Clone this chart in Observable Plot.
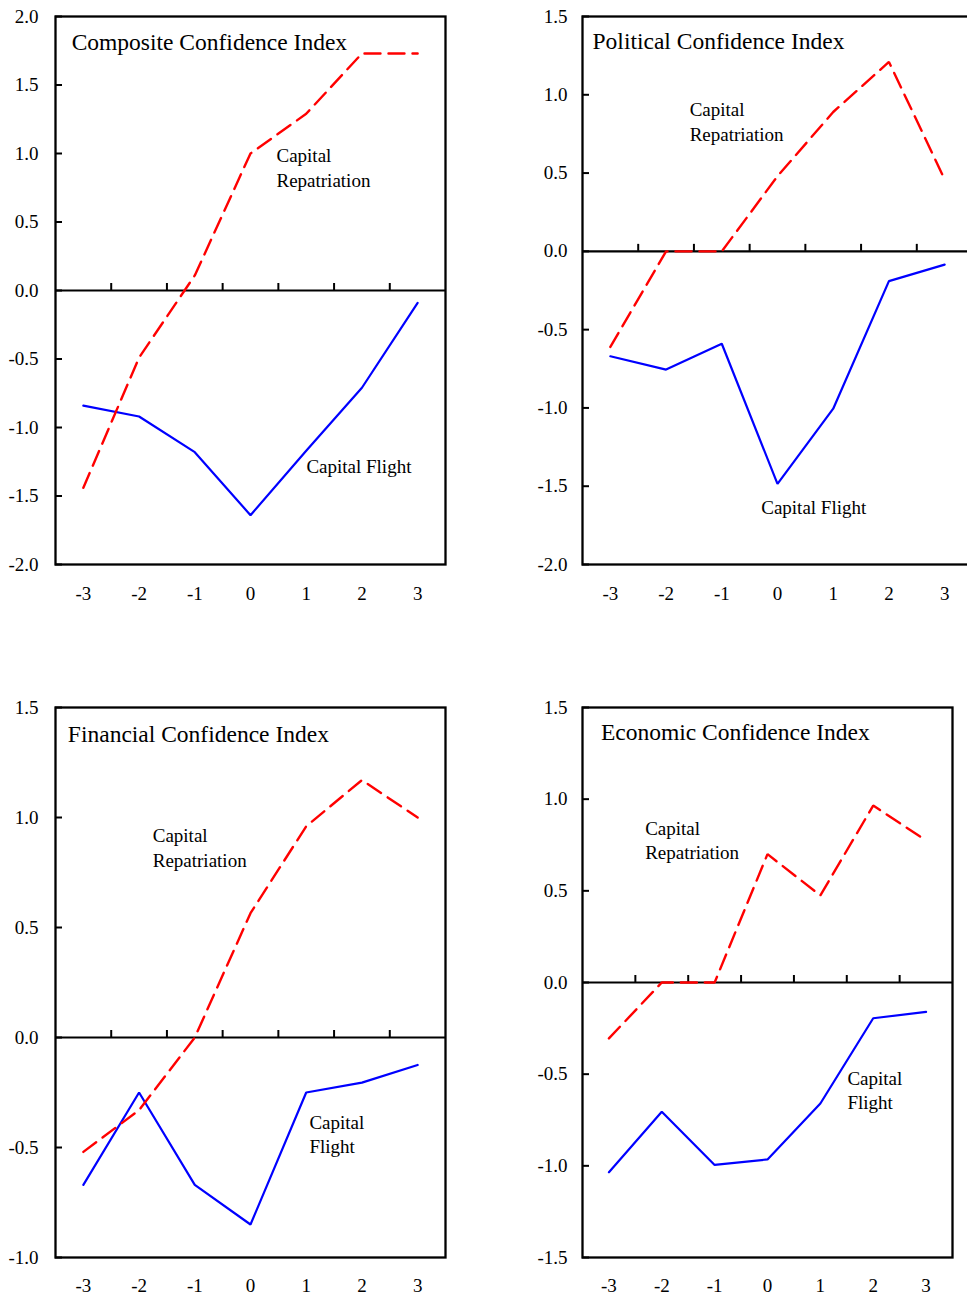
<!DOCTYPE html>
<html>
<head>
<meta charset="utf-8">
<script src="https://cdn.jsdelivr.net/npm/d3@7"></script>
<script src="https://cdn.jsdelivr.net/npm/@observablehq/plot@0.6"></script>
<style>
  html, body { margin: 0; padding: 0; background: #fff; }
  #root { position: relative; width: 967px; height: 1296px; overflow: hidden; background: #fff; }
  .panel { position: absolute; }
  .panel svg { overflow: visible; max-width: none !important; height: auto; }
</style>
</head>
<body>
<div id="root"></div>
<script>
// ---- data ----
const xValues = [-3, -2, -1, 0, 1, 2, 3];
const halfTicks = [-2.5, -1.5, -0.5, 0.5, 1.5, 2.5];

const compositeRepatriation = [-1.44, -0.49, 0.11, 1.0, 1.29, 1.73, 1.73];
const compositeFlight = [-0.84, -0.92, -1.18, -1.64, -1.17, -0.71, -0.09];

const politicalRepatriation = [-0.61, 0, 0, 0.48, 0.89, 1.21, 0.46];
const politicalFlight = [-0.67, -0.755, -0.59, -1.485, -1.005, -0.19, -0.085];

const financialRepatriation = [-0.52, -0.33, 0, 0.565, 0.96, 1.17, 1.0];
const financialFlight = [-0.67, -0.25, -0.67, -0.85, -0.25, -0.205, -0.125];

const economicRepatriation = [-0.305, 0, 0, 0.70, 0.475, 0.965, 0.775];
const economicFlight = [-1.035, -0.705, -0.995, -0.965, -0.66, -0.195, -0.16];

const compositeTicks = [-2, -1.5, -1, -0.5, 0, 0.5, 1, 1.5, 2];
const politicalTicks = [-2, -1.5, -1, -0.5, 0, 0.5, 1, 1.5];
const financialTicks = [-1, -0.5, 0, 0.5, 1, 1.5];
const economicTicks = [-1.5, -1, -0.5, 0, 0.5, 1, 1.5];

const titles = ["Composite Confidence Index", "Political Confidence Index", "Financial Confidence Index", "Economic Confidence Index"];
const repatriationLabel = "Capital\nRepatriation";
const flightLabels = ["Capital Flight", "Capital Flight", "Capital\nFlight", "Capital\nFlight"];

// ---- layout / options ----
const FONT = "'Liberation Serif', 'Times New Roman', serif";
const panels = [
  { title: titles[0], repat: compositeRepatriation, flight: compositeFlight, flightText: flightLabels[0],
    yDomain: [-2, 2], yTicks: compositeTicks,
    left: 0, top: 0, width: 460, height: 610, mL: 55, mR: 15, mT: 16, mB: 46, yPad: 17, xPad: 22,
    titleAt: [-3.21, 1.757], repatAt: [0.466, 0.759], flightAt: [1.003, -1.333] },
  { title: titles[1], repat: politicalRepatriation, flight: politicalFlight, flightText: flightLabels[1],
    yDomain: [-2, 1.5], yTicks: politicalTicks,
    left: 520, top: 0, width: 460, height: 610, mL: 62, mR: 8, mT: 16, mB: 46, yPad: 15, xPad: 22,
    titleAt: [-3.32, 1.292], repatAt: [-1.576, 0.706], flightAt: [-0.292, -1.68] },
  { title: titles[2], repat: financialRepatriation, flight: financialFlight, flightText: flightLabels[2],
    yDomain: [-1, 1.5], yTicks: financialTicks,
    left: 0, top: 690, width: 460, height: 606, mL: 55, mR: 15, mT: 17, mB: 39, yPad: 17, xPad: 21,
    titleAt: [-3.278, 1.345], repatAt: [-1.755, 0.777], flightAt: [1.057, -0.527] },
  { title: titles[3], repat: economicRepatriation, flight: economicFlight, flightText: flightLabels[3],
    yDomain: [-1.5, 1.5], yTicks: economicTicks,
    left: 520, top: 690, width: 447, height: 606, mL: 62, mR: 15, mT: 17, mB: 39, yPad: 15, xPad: 21,
    titleAt: [-3.151, 1.323], repatAt: [-2.314, 0.671], flightAt: [1.512, -0.691] }
];

const root = document.getElementById("root");

for (const p of panels) {
  const repatData = xValues.map((x, i) => ({x, y: p.repat[i]}));
  const flightData = xValues.map((x, i) => ({x, y: p.flight[i]}));
  const chart = Plot.plot({
    width: p.width,
    height: p.height,
    marginLeft: p.mL,
    marginRight: p.mR,
    marginTop: p.mT,
    marginBottom: p.mB,
    style: { fontFamily: FONT, fontSize: "19px", color: "#000", background: "transparent", maxWidth: "none" },
    x: { domain: [-3.5, 3.5] },
    y: { domain: p.yDomain },
    marks: [
      Plot.ruleY([0], { stroke: "#000", strokeWidth: 2.2 }),
      Plot.ruleX(halfTicks, { x: d => d, y1: 0, y2: 0, insetTop: -7, stroke: "#000", strokeWidth: 2 }),
      Plot.ruleY(p.yTicks, { y: d => d, x1: -3.5, x2: -3.5, insetRight: -7, stroke: "#000", strokeWidth: 2 }),
      Plot.line(flightData, { x: "x", y: "y", stroke: "#0000FF", strokeWidth: 2.2, strokeLinejoin: "miter" }),
      Plot.line(repatData, { x: "x", y: "y", stroke: "#FF0000", strokeWidth: 2.4, strokeDasharray: "16,8", strokeLinejoin: "miter" }),
      Plot.frame({ stroke: "#000", strokeWidth: 2.3 }),
      Plot.axisY({ ticks: p.yTicks, tickSize: 0, tickPadding: p.yPad, tickFormat: d => d.toFixed(1), label: null, fontSize: 19, fill: "#000" }),
      Plot.axisX({ ticks: xValues, tickSize: 0, tickPadding: p.xPad, tickFormat: d => String(d), label: null, fontSize: 19, fill: "#000" }),
      Plot.text([p.title], { x: () => p.titleAt[0], y: () => p.titleAt[1], text: d => d, textAnchor: "start", lineAnchor: "bottom", fontSize: 23.5, fill: "#000" }),
      Plot.text([repatriationLabel], { x: () => p.repatAt[0], y: () => p.repatAt[1], text: d => d, textAnchor: "start", lineAnchor: "bottom", lineHeight: 1.29, fontSize: 19, fill: "#000" }),
      Plot.text([p.flightText], { x: () => p.flightAt[0], y: () => p.flightAt[1], text: d => d, textAnchor: "start", lineAnchor: "bottom", lineHeight: 1.29, fontSize: 19, fill: "#000" })
    ]
  });
  const div = document.createElement("div");
  div.className = "panel";
  div.style.left = p.left + "px";
  div.style.top = p.top + "px";
  div.style.width = p.width + "px";
  div.style.height = p.height + "px";
  div.appendChild(chart);
  root.appendChild(div);
}
</script>
</body>
</html>
